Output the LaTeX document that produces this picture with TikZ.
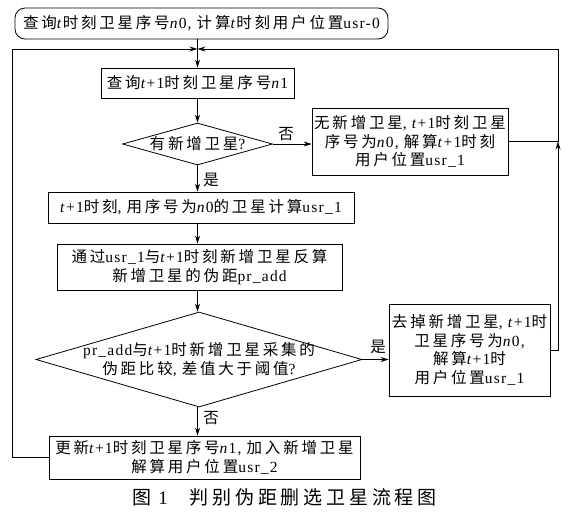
\documentclass[tikz,border=0pt]{standalone}
\usepackage{fontspec}
\setmainfont{Liberation Serif}[LetterSpace=8]
\newfontfamily\cjk{Noto Sans CJK SC}[LetterSpace=18]
\newfontfamily\cjkcap{Noto Sans CJK SC}[LetterSpace=20]
\usetikzlibrary{shapes.geometric,arrows.meta}
\newcommand\zh[1]{{\cjk #1}}
\newcommand\tv{\textit{t}}
\newcommand\nv{\textit{n}}
\begin{document}
\begin{tikzpicture}[x=1pt,y=-1pt,
  box/.style={draw, line width=0.8pt, inner sep=0pt, align=center,
    font=\fontsize{15.5}{18.5}\selectfont},
  dia/.style={draw, diamond, line width=0.8pt, inner sep=0pt},
  txt/.style={inner sep=0pt, align=center, font=\fontsize{15.5}{18.5}\selectfont},
  lab/.style={inner sep=0pt, font=\fontsize{15.5}{18}\selectfont},
  arr/.style={-{Stealth[length=8pt,width=5pt]}, line width=0.8pt}]
\useasboundingbox (0,0) rectangle (569,514);
% nodes
\node[box, rounded corners=10pt, minimum width=373pt, minimum height=31pt] (top) at (201.5,23.5)
  {\zh{查询}\tv\zh{时刻卫星序号}\nv0, \zh{计算}\tv\zh{时刻用户位置}usr-0};
\node[box, minimum width=193pt, minimum height=30pt] (b2) at (197.5,83)
  {\zh{查询}\tv+1\zh{时刻卫星序号}\nv1};
\node[dia, minimum width=150pt, minimum height=42pt] (d1) at (197.5,144) {};
\node[txt] (d1t) at (d1.center) {\zh{有新增卫星}?};
\node[box, minimum width=196pt, minimum height=67pt] (r1) at (410,141.5)
  {\zh{无新增卫星}, \tv+1\zh{时刻卫星}\\\zh{序号为}\nv0, \zh{解算}\tv+1\zh{时刻}\\\zh{用户位置}usr\_1};
\node[box, minimum width=306pt, minimum height=31pt] (b3) at (201,207.5)
  {\tv+1\zh{时刻}, \zh{用序号为}\nv0\zh{的卫星计算}usr\_1};
\node[box, minimum width=285pt, minimum height=46pt] (b4) at (199.5,267)
  {\zh{通过}usr\_1\zh{与}\tv+1\zh{时刻新增卫星反算}\\\zh{新增卫星的伪距}pr\_add};
\node[dia, minimum width=326pt, minimum height=95pt] (d2) at (199,359.5) {};
\node[txt] (d2t) at (d2.center)
  {pr\_add\zh{与}\tv+1\zh{时新增卫星采集的}\\\zh{伪距比较}, \zh{差值大于阈值}?};
\node[box, minimum width=161pt, minimum height=92pt] (r2) at (469.5,350)
  {\zh{去掉新增卫星}, \tv+1\zh{时}\\\zh{卫星序号为}\nv0,\\\zh{解算}\tv+1\zh{时}\\\zh{用户位置}usr\_1};
\node[box, minimum width=311pt, minimum height=43pt] (b5) at (204.5,457.5)
  {\zh{更新}\tv+1\zh{时刻卫星序号}\nv1, \zh{加入新增卫星}\\\zh{解算用户位置}usr\_2};
\node[inner sep=0pt, font=\fontsize{19}{21}\selectfont] (cap) at (284.5,497)
  {{\cjkcap 图}\hspace{7pt}1\hspace{22pt}{\cjkcap 判别伪距删选卫星流程图}};
% labels
\node[lab] (no1) at (286,134) {\zh{否}};
\node[lab] (yes1) at (211,180) {\zh{是}};
\node[lab] (yes2) at (378,347) {\zh{是}};
\node[lab] (no2) at (211,418) {\zh{否}};
% helper coordinates
\coordinate (C) at (197.5,0);
\coordinate (J) at (197.5,49);
\coordinate (LJ) at (12,49);
\coordinate (RJ) at (558,49);
\coordinate (RM) at (RJ |- r1.east);
% connectors
\draw[arr] (C |- top.south) -- (C |- b2.north);
\draw[arr] (C |- b2.south) -- (d1.north);
\draw[arr] (d1.east) -- (r1.west |- d1.east);
\draw[arr] (d1.south) -- (C |- b3.north);
\draw[arr] (C |- b3.south) -- (C |- b4.north);
\draw[arr] (C |- b4.south) -- (C |- d2.north);
\draw[arr] (d2.east) -- (d2.east -| r2.west);
\draw[arr] (C |- d2.south) -- (C |- b5.north);
\draw[arr] (b5.west) -| (LJ) -- (J);
\draw[arr] (r2.east) -| (RM);
\draw[arr] (r1.east) -| (RJ) -- (J);
\end{tikzpicture}
\end{document}
